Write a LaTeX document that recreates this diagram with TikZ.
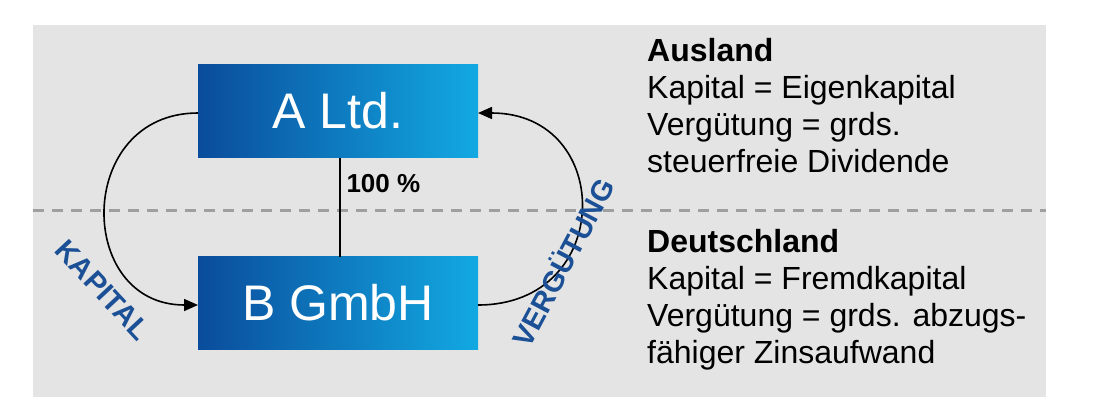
\documentclass[tikz,border=0pt]{standalone}
\usepackage{fontspec}
\setmainfont{Liberation Sans}
\usetikzlibrary{arrows.meta}
\definecolor{dk}{HTML}{0A4C9C}
\definecolor{lt}{HTML}{12A9E2}
\definecolor{lbl}{HTML}{1B4F96}
\definecolor{bg}{HTML}{E4E4E4}
\begin{document}
\begin{tikzpicture}[x=1pt,y=-1pt,
  box/.style={minimum width=280pt,minimum height=93pt,left color=dk,right color=lt,text=white,font=\fontsize{50}{50}\selectfont,inner sep=0},
  arr/.style={line width=1.6pt,-{Triangle[length=14pt,width=12pt]}},
  lab/.style={text=lbl,font=\bfseries\fontsize{29}{29}\selectfont},
  txt/.style={anchor=north west,align=left,font=\fontsize{32}{37}\selectfont,inner sep=0}]
\useasboundingbox (0,0) rectangle (1095,420);
\fill[bg] (33,25) rectangle (1046,397);
\draw[gray!75,line width=3pt,dash pattern=on 11pt off 8pt] (33,210) -- (1046,210);
\node[box] (A) at (338,111) {A Ltd.};
\node[box] (B) at (338,303) {B GmbH};
\draw[line width=1.2pt] (340,158) -- (340,257);
\node[font=\bfseries\fontsize{26}{26}\selectfont,anchor=west] (p) at (343,184) {100 \%};
\coordinate (a1) at (198,113);
\coordinate (b1) at (198,305);
\coordinate (b2) at (478,305);
\coordinate (a2) at (478,113);
\draw[arr] (a1) .. controls (75,113) and (75,305) .. (b1);
\draw[arr] (b2) .. controls (615,305) and (615,113) .. (a2);
\node[lab,rotate=-47] (k) at (103,290) {KAPITAL};
\node[lab,rotate=62] (v) at (562,262) {VERGÜTUNG};
\node[txt] (t1) at (647,38) {\textbf{Ausland}\\Kapital = Eigenkapital\\Vergütung = grds.\\steuerfreie Dividende};
\node[txt] (t2) at (647,229) {\textbf{Deutschland}\\Kapital = Fremdkapital\\Vergütung = grds. abzugs-\\fähiger Zinsaufwand};
\end{tikzpicture}
\end{document}
